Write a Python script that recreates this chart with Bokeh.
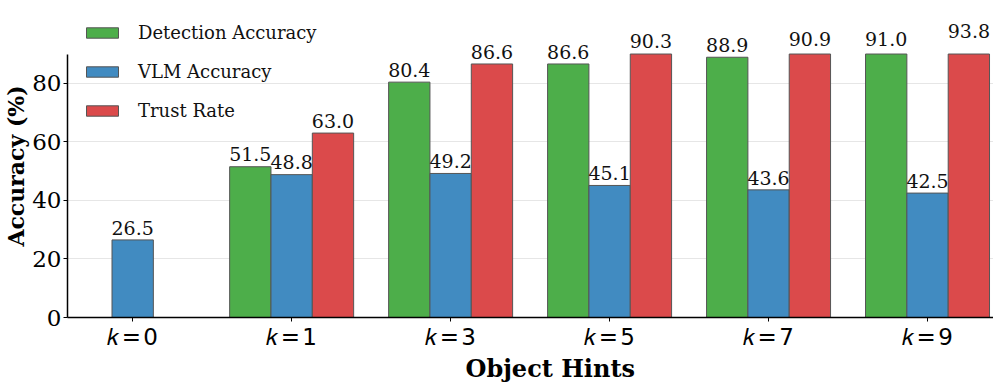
from bokeh.plotting import figure
from bokeh.models import ColumnDataSource, Range1d, FixedTicker, LabelSet, Legend, LegendItem, Title
from bokeh.core.properties import value
from bokeh.embed import file_html
from bokeh.resources import INLINE
import math

hints = [0, 1, 3, 5, 7, 9]
hint_labels = ["\U0001D458\u200A=\u200A" + str(h) for h in hints]
detection = [float("nan"), 51.5, 80.4, 86.6, 88.9, 91.0]
vlm = [26.5, 48.8, 49.2, 45.1, 43.6, 42.5]
trust = [float("nan"), 63.0, 86.6, 90.3, 90.9, 93.8]
series_names = ["Detection Accuracy", "VLM Accuracy", "Trust Rate"]
y_ticks = [0, 20, 40, 60, 80]
axis_max = 90  # visible axis limit; bars beyond are cut at this value

colors = ["#4DAE4A", "#418BC1", "#DB4A4B"]
bar_w = 0.26
offsets = [-bar_w, 0.0, bar_w]
xpos = list(range(len(hints)))

p = figure(width=993, height=382, output_backend="svg", toolbar_location=None,
           x_range=Range1d(-0.41, 5.415), y_range=Range1d(0, 103.5),
           min_border_left=55, min_border_top=14, min_border_right=0, min_border_bottom=0)
p.outline_line_color = None
p.background_fill_color = "white"

renderers = []
for name, vals, col, off in zip(series_names, [detection, vlm, trust], colors, offsets):
    tops = [v if math.isnan(v) else min(v, axis_max) for v in vals]
    src = ColumnDataSource(dict(x=[x + off for x in xpos], top=tops))
    r = p.vbar(x="x", top="top", width=bar_w, source=src, fill_color=col,
               line_color="#555555", line_width=1)
    renderers.append(r)
    lx = [x + off for x, v in zip(xpos, vals) if not math.isnan(v)]
    lv = [v for v in vals if not math.isnan(v)]
    lsrc = ColumnDataSource(dict(x=lx, y=[v + 1.8 for v in lv], t=["%.1f" % v for v in lv]))
    ls = LabelSet(x="x", y="y", text="t", source=lsrc, text_align="center",
                  text_baseline="alphabetic", text_font=value("DejaVu Serif"),
                  text_font_size=value("19px"), text_color=value("#111111"))
    p.add_layout(ls)

legend = Legend(items=[LegendItem(label=n, renderers=[r]) for n, r in zip(series_names, renderers)],
                location=(15, 196), orientation="vertical")
legend.border_line_color = None
legend.background_fill_alpha = 0
legend.padding = 0
legend.margin = 0
legend.glyph_width = 40
legend.glyph_height = 13
legend.label_standoff = 16
legend.spacing = 18
legend.label_text_font = "DejaVu Serif"
legend.label_text_font_size = "18px"
legend.label_text_color = "#111111"
p.add_layout(legend)

p.xaxis.ticker = FixedTicker(ticks=xpos)
p.xaxis.major_label_overrides = {x: l for x, l in zip(xpos, hint_labels)}
p.yaxis.ticker = FixedTicker(ticks=y_ticks)
p.yaxis.bounds = (0, axis_max)

for ax in (p.xaxis, p.yaxis):
    ax.axis_line_color = "black"
    ax.axis_line_width = 1.5
    ax.major_tick_line_color = "black"
    ax.major_tick_out = 4
    ax.major_tick_in = 0
    ax.minor_tick_line_color = None
    ax.axis_label_text_font = "DejaVu Serif"
    ax.axis_label_text_font_style = "bold"
    ax.axis_label_text_color = "black"
    ax.major_label_text_color = "black"

xlabel = Title(text="Object Hints", align="left", offset=398, standoff=-1,
               text_font="DejaVu Serif", text_font_style="bold", text_font_size="24px",
               text_color="black")
p.add_layout(xlabel, "below")

p.yaxis.axis_label = "Accuracy (%)"
p.yaxis.axis_label_text_font_size = "22px"
p.xaxis.major_label_text_font = "DejaVu Sans"
p.xaxis.major_label_text_font_size = "23px"
p.yaxis.major_label_text_font = "DejaVu Serif"
p.yaxis.major_label_text_font_size = "23px"
p.xaxis.major_label_standoff = 2
p.yaxis.major_label_standoff = 2
p.yaxis.axis_label_standoff = 0

p.xgrid.grid_line_color = None
p.ygrid.grid_line_color = "#e6e6e6"
p.ygrid.grid_line_width = 1

open("out.html", "w").write(file_html(p, INLINE))
